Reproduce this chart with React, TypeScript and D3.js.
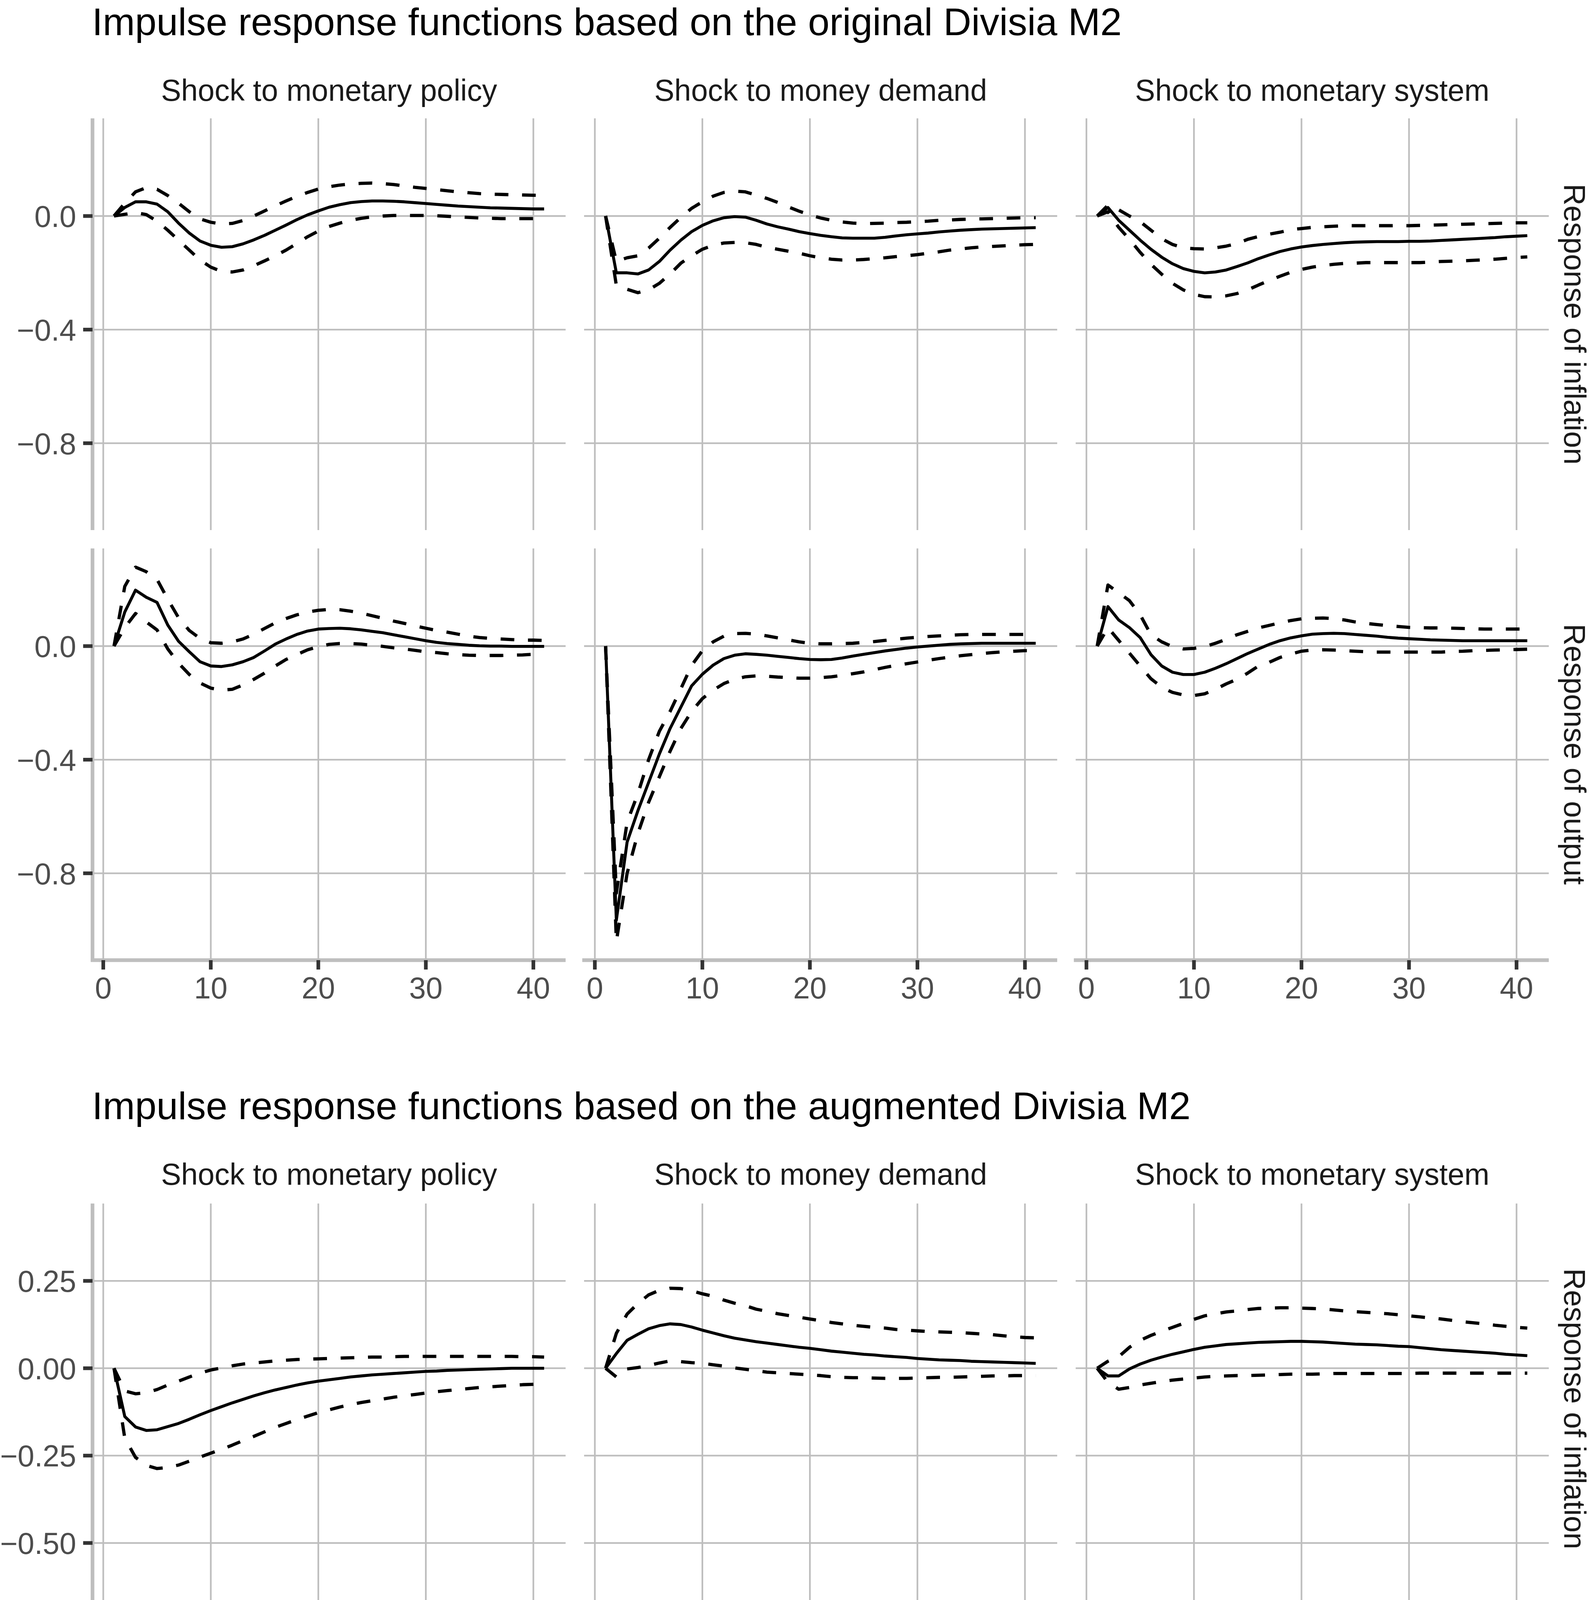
import React from "react";
import * as d3 from "d3";

// ---------------- DATA ----------------
const horizon = [1,2,3,4,5,6,7,8,9,10,11,12,13,14,15,16,17,18,19,20,21,22,23,24,25,26,27,28,29,30,31,32,33,34,35,36,37,38,39,40,41];

const titleOriginal = "Impulse response functions based on the original Divisia M2";
const titleAugmented = "Impulse response functions based on the augmented Divisia M2";
const shockLabels = ["Shock to monetary policy", "Shock to money demand", "Shock to monetary system"];
const responseLabels = ["Response of inflation", "Response of output"];

const xTickValues = [0, 10, 20, 30, 40];
const xTickLabels = ["0", "10", "20", "30", "40"];
const yTickValuesOriginal = [0, -0.4, -0.8];
const yTickLabelsOriginal = ["0.0", "\u22120.4", "\u22120.8"];
const yTickValuesAugmented = [0.25, 0, -0.25, -0.5];
const yTickLabelsAugmented = ["0.25", "0.00", "\u22120.25", "\u22120.50"];

// Original Divisia M2 — shock to monetary policy
const origPolicyInflMid = [0,0.03,0.05,0.05,0.042,0.015,-0.025,-0.06,-0.088,-0.103,-0.11,-0.108,-0.098,-0.084,-0.068,-0.05,-0.032,-0.013,0.004,0.018,0.031,0.04,0.047,0.051,0.053,0.053,0.052,0.05,0.047,0.044,0.041,0.038,0.035,0.033,0.031,0.029,0.028,0.027,0.026,0.025,0.025];
const origPolicyInflUp = [0,0.045,0.085,0.1,0.094,0.072,0.045,0.015,-0.01,-0.022,-0.028,-0.026,-0.016,0.0,0.018,0.036,0.053,0.069,0.083,0.095,0.103,0.109,0.113,0.115,0.116,0.114,0.111,0.106,0.101,0.097,0.093,0.089,0.085,0.082,0.079,0.077,0.076,0.075,0.074,0.073,0.073];
const origPolicyInflLo = [0,0.006,0.012,0.005,-0.018,-0.05,-0.085,-0.12,-0.155,-0.18,-0.195,-0.197,-0.19,-0.175,-0.158,-0.14,-0.12,-0.097,-0.073,-0.053,-0.037,-0.025,-0.015,-0.008,-0.003,0,0.002,0.002,0.002,0.002,0.001,-0.001,-0.003,-0.005,-0.007,-0.008,-0.009,-0.009,-0.009,-0.009,-0.009];
const origPolicyOutMid = [0,0.12,0.197,0.172,0.154,0.074,0.017,-0.02,-0.055,-0.07,-0.072,-0.066,-0.055,-0.04,-0.017,0.007,0.025,0.041,0.053,0.06,0.062,0.063,0.061,0.057,0.052,0.047,0.04,0.033,0.026,0.019,0.013,0.009,0.006,0.003,0.001,0,0,-0.001,-0.001,-0.001,-0.001];
const origPolicyOutUp = [0,0.21,0.278,0.262,0.235,0.165,0.1,0.055,0.027,0.012,0.01,0.015,0.025,0.042,0.062,0.082,0.097,0.11,0.12,0.126,0.129,0.128,0.123,0.116,0.107,0.098,0.088,0.08,0.071,0.063,0.055,0.049,0.042,0.035,0.03,0.027,0.025,0.023,0.021,0.021,0.02];
const origPolicyOutLo = [0,0.065,0.115,0.085,0.057,-0.01,-0.06,-0.1,-0.13,-0.148,-0.155,-0.152,-0.137,-0.117,-0.095,-0.07,-0.047,-0.03,-0.013,-0.002,0.006,0.009,0.009,0.007,0.003,-0.001,-0.006,-0.01,-0.015,-0.02,-0.023,-0.027,-0.03,-0.032,-0.033,-0.033,-0.033,-0.032,-0.031,-0.029,-0.028];

// Original Divisia M2 — shock to money demand
const origDemandInflMid = [0,-0.2,-0.2,-0.204,-0.19,-0.16,-0.12,-0.085,-0.055,-0.033,-0.017,-0.006,-0.002,-0.004,-0.015,-0.028,-0.038,-0.046,-0.055,-0.062,-0.068,-0.073,-0.077,-0.078,-0.078,-0.078,-0.075,-0.07,-0.066,-0.063,-0.06,-0.056,-0.053,-0.05,-0.048,-0.046,-0.045,-0.044,-0.043,-0.042,-0.041];
const origDemandInflUp = [0,-0.16,-0.147,-0.14,-0.113,-0.078,-0.04,-0.005,0.027,0.05,0.07,0.083,0.088,0.085,0.074,0.062,0.048,0.032,0.017,0.004,-0.007,-0.015,-0.021,-0.025,-0.027,-0.026,-0.025,-0.023,-0.022,-0.02,-0.018,-0.015,-0.014,-0.012,-0.011,-0.01,-0.009,-0.008,-0.007,-0.006,-0.006];
const origDemandInflLo = [0,-0.245,-0.258,-0.27,-0.26,-0.237,-0.204,-0.166,-0.14,-0.117,-0.103,-0.095,-0.093,-0.094,-0.1,-0.11,-0.117,-0.124,-0.131,-0.14,-0.147,-0.152,-0.155,-0.155,-0.153,-0.15,-0.147,-0.143,-0.14,-0.136,-0.131,-0.126,-0.12,-0.116,-0.112,-0.109,-0.107,-0.105,-0.103,-0.101,-0.1];
const origDemandOutMid = [0,-0.965,-0.69,-0.58,-0.48,-0.38,-0.29,-0.215,-0.14,-0.099,-0.067,-0.044,-0.032,-0.027,-0.029,-0.032,-0.036,-0.04,-0.044,-0.047,-0.048,-0.047,-0.042,-0.035,-0.029,-0.023,-0.017,-0.012,-0.007,-0.003,0,0.003,0.006,0.008,0.009,0.01,0.01,0.01,0.01,0.01,0.01];
const origDemandOutUp = [0,-0.87,-0.62,-0.52,-0.4,-0.3,-0.23,-0.15,-0.068,-0.016,0.015,0.035,0.044,0.045,0.042,0.036,0.029,0.022,0.015,0.01,0.008,0.008,0.009,0.01,0.013,0.016,0.02,0.024,0.028,0.031,0.034,0.036,0.038,0.04,0.041,0.041,0.041,0.041,0.041,0.041,0.041];
const origDemandOutLo = [0,-1.04,-0.8,-0.66,-0.55,-0.46,-0.37,-0.29,-0.23,-0.185,-0.155,-0.132,-0.117,-0.108,-0.105,-0.106,-0.109,-0.111,-0.113,-0.113,-0.111,-0.108,-0.103,-0.097,-0.091,-0.083,-0.075,-0.068,-0.062,-0.056,-0.05,-0.044,-0.039,-0.034,-0.03,-0.026,-0.023,-0.02,-0.018,-0.016,-0.016];

// Original Divisia M2 — shock to monetary system
const origSystemInflMid = [0,0.03,-0.015,-0.05,-0.085,-0.117,-0.145,-0.168,-0.185,-0.195,-0.2,-0.197,-0.19,-0.178,-0.165,-0.15,-0.137,-0.125,-0.116,-0.109,-0.104,-0.1,-0.097,-0.094,-0.092,-0.091,-0.09,-0.09,-0.09,-0.089,-0.089,-0.088,-0.086,-0.084,-0.082,-0.08,-0.078,-0.076,-0.073,-0.071,-0.069];
const origSystemInflUp = [0,0.038,0.022,0,-0.02,-0.05,-0.08,-0.1,-0.112,-0.115,-0.116,-0.112,-0.106,-0.097,-0.082,-0.072,-0.064,-0.057,-0.048,-0.044,-0.04,-0.038,-0.036,-0.034,-0.034,-0.034,-0.034,-0.034,-0.034,-0.034,-0.033,-0.032,-0.031,-0.03,-0.029,-0.028,-0.027,-0.026,-0.025,-0.024,-0.024];
const origSystemInflLo = [0,0.015,-0.04,-0.082,-0.128,-0.17,-0.205,-0.237,-0.26,-0.276,-0.284,-0.285,-0.281,-0.273,-0.26,-0.243,-0.227,-0.212,-0.198,-0.188,-0.18,-0.174,-0.17,-0.167,-0.166,-0.164,-0.164,-0.164,-0.164,-0.164,-0.164,-0.162,-0.16,-0.159,-0.158,-0.156,-0.154,-0.152,-0.149,-0.146,-0.144];
const origSystemOutMid = [0,0.139,0.092,0.065,0.03,-0.03,-0.07,-0.092,-0.1,-0.1,-0.092,-0.078,-0.062,-0.044,-0.026,-0.01,0.006,0.019,0.029,0.036,0.042,0.044,0.045,0.044,0.041,0.038,0.035,0.031,0.028,0.026,0.024,0.022,0.021,0.02,0.019,0.019,0.019,0.019,0.019,0.019,0.019];
const origSystemOutUp = [0,0.215,0.188,0.16,0.11,0.04,0.015,-0.002,-0.01,-0.008,-0.002,0.01,0.024,0.04,0.052,0.064,0.073,0.082,0.09,0.096,0.098,0.099,0.097,0.092,0.085,0.08,0.076,0.072,0.069,0.066,0.065,0.064,0.064,0.063,0.062,0.061,0.06,0.06,0.06,0.06,0.06];
const origSystemOutLo = [0,0.065,0.02,-0.025,-0.07,-0.115,-0.145,-0.163,-0.172,-0.174,-0.168,-0.152,-0.133,-0.117,-0.095,-0.07,-0.057,-0.04,-0.028,-0.018,-0.014,-0.013,-0.014,-0.016,-0.018,-0.02,-0.021,-0.021,-0.021,-0.021,-0.021,-0.021,-0.021,-0.019,-0.018,-0.016,-0.015,-0.014,-0.013,-0.012,-0.011];

// Augmented Divisia M2 — shock to monetary policy
const augPolicyInflMid = [0,-0.138,-0.168,-0.178,-0.176,-0.167,-0.158,-0.146,-0.133,-0.121,-0.11,-0.099,-0.089,-0.079,-0.07,-0.062,-0.055,-0.048,-0.042,-0.037,-0.033,-0.029,-0.025,-0.022,-0.019,-0.017,-0.015,-0.013,-0.011,-0.009,-0.008,-0.006,-0.005,-0.004,-0.003,-0.002,-0.001,0,0,0,0];
const augPolicyInflUp = [0,-0.065,-0.073,-0.07,-0.061,-0.048,-0.037,-0.025,-0.014,-0.005,0.001,0.007,0.012,0.015,0.018,0.021,0.023,0.025,0.026,0.027,0.028,0.029,0.03,0.031,0.032,0.032,0.033,0.034,0.034,0.034,0.034,0.034,0.034,0.034,0.034,0.034,0.034,0.034,0.033,0.033,0.032];
const augPolicyInflLo = [0,-0.2,-0.255,-0.278,-0.287,-0.284,-0.277,-0.266,-0.254,-0.243,-0.232,-0.22,-0.207,-0.195,-0.182,-0.169,-0.158,-0.147,-0.137,-0.127,-0.119,-0.111,-0.104,-0.098,-0.093,-0.088,-0.083,-0.079,-0.075,-0.071,-0.067,-0.064,-0.061,-0.058,-0.055,-0.053,-0.051,-0.049,-0.047,-0.046,-0.045];
const augPolicyOutMid = [0,-0.532,-0.445,-0.39,-0.338,-0.295,-0.255,-0.217,-0.18,-0.142,-0.11,-0.082,-0.06,-0.042,-0.03,-0.02,-0.013,-0.008,-0.003,0,0.003,0.004,0.005,0.006,0.006,0.006,0.006,0.006,0.006,0.006,0.005,0.004,0.004,0.003,0.002,0.002,0.001,0,0,0,0];
const augPolicyOutUp = [0,-0.23,-0.226,-0.208,-0.18,-0.152,-0.125,-0.094,-0.065,-0.042,-0.024,-0.01,0.006,0.019,0.028,0.035,0.042,0.047,0.051,0.054,0.057,0.058,0.059,0.059,0.058,0.057,0.056,0.055,0.053,0.051,0.049,0.047,0.045,0.043,0.041,0.039,0.037,0.036,0.034,0.033,0.032];
const augPolicyOutLo = [0,-0.65,-0.565,-0.51,-0.465,-0.42,-0.378,-0.335,-0.295,-0.256,-0.218,-0.186,-0.153,-0.126,-0.1,-0.083,-0.069,-0.058,-0.05,-0.044,-0.04,-0.037,-0.035,-0.034,-0.033,-0.032,-0.032,-0.031,-0.03,-0.03,-0.03,-0.029,-0.029,-0.028,-0.028,-0.027,-0.027,-0.026,-0.026,-0.025,-0.025];

// Augmented Divisia M2 — shock to money demand
const augDemandInflMid = [0,0.042,0.08,0.097,0.113,0.122,0.127,0.125,0.118,0.109,0.101,0.093,0.086,0.081,0.076,0.072,0.068,0.064,0.06,0.057,0.053,0.049,0.046,0.043,0.04,0.038,0.035,0.033,0.031,0.028,0.026,0.024,0.023,0.022,0.02,0.019,0.018,0.017,0.016,0.015,0.014];
const augDemandInflUp = [0,0.1,0.155,0.185,0.21,0.223,0.229,0.228,0.222,0.213,0.206,0.195,0.186,0.179,0.169,0.163,0.156,0.151,0.146,0.141,0.136,0.131,0.127,0.123,0.12,0.117,0.115,0.111,0.109,0.107,0.105,0.104,0.103,0.102,0.1,0.098,0.096,0.093,0.09,0.088,0.087];
const augDemandInflLo = [0,-0.025,-0.002,0.002,0.008,0.015,0.021,0.019,0.016,0.014,0.01,0.006,0.001,-0.003,-0.007,-0.011,-0.013,-0.015,-0.017,-0.019,-0.021,-0.024,-0.026,-0.027,-0.027,-0.028,-0.029,-0.029,-0.029,-0.028,-0.027,-0.026,-0.026,-0.025,-0.024,-0.023,-0.022,-0.022,-0.021,-0.021,-0.021];
const augDemandOutMid = [0,0.142,0.25,0.196,0.163,0.108,0.063,0.028,0.002,-0.017,-0.033,-0.042,-0.047,-0.05,-0.051,-0.051,-0.05,-0.05,-0.048,-0.046,-0.044,-0.041,-0.039,-0.037,-0.035,-0.033,-0.031,-0.029,-0.027,-0.025,-0.023,-0.021,-0.02,-0.019,-0.018,-0.016,-0.015,-0.013,-0.012,-0.011,-0.01];
const augDemandOutUp = [0,0.345,0.418,0.355,0.31,0.235,0.185,0.137,0.098,0.067,0.045,0.03,0.02,0.012,0.007,0.005,0.004,0.003,0.003,0.003,0.003,0.003,0.003,0.003,0.004,0.005,0.007,0.008,0.009,0.01,0.012,0.013,0.014,0.014,0.015,0.016,0.017,0.018,0.019,0.02,0.021];
const augDemandOutLo = [0,-0.08,0.055,0.022,0.003,-0.018,-0.043,-0.058,-0.073,-0.088,-0.098,-0.102,-0.105,-0.107,-0.108,-0.108,-0.107,-0.105,-0.103,-0.1,-0.097,-0.094,-0.091,-0.088,-0.085,-0.082,-0.079,-0.076,-0.073,-0.07,-0.067,-0.064,-0.061,-0.058,-0.055,-0.052,-0.05,-0.048,-0.047,-0.046,-0.045];

// Augmented Divisia M2 — shock to monetary system
const augSystemInflMid = [0,-0.022,-0.022,-0.002,0.012,0.023,0.032,0.04,0.047,0.054,0.06,0.064,0.068,0.07,0.072,0.074,0.075,0.076,0.077,0.077,0.076,0.075,0.073,0.071,0.069,0.068,0.067,0.065,0.063,0.062,0.059,0.056,0.053,0.051,0.049,0.047,0.045,0.043,0.04,0.038,0.036];
const augSystemInflUp = [0,0.02,0.033,0.06,0.08,0.094,0.106,0.117,0.128,0.14,0.15,0.156,0.161,0.164,0.168,0.171,0.172,0.173,0.173,0.172,0.171,0.17,0.167,0.164,0.162,0.16,0.158,0.156,0.153,0.15,0.147,0.144,0.141,0.137,0.133,0.13,0.127,0.123,0.12,0.117,0.115];
const augSystemInflLo = [0,-0.04,-0.06,-0.055,-0.048,-0.043,-0.038,-0.034,-0.031,-0.028,-0.025,-0.023,-0.022,-0.021,-0.021,-0.02,-0.019,-0.018,-0.017,-0.017,-0.017,-0.016,-0.015,-0.015,-0.015,-0.015,-0.015,-0.015,-0.015,-0.015,-0.014,-0.014,-0.014,-0.014,-0.014,-0.014,-0.014,-0.014,-0.014,-0.014,-0.014];
const augSystemOutMid = [0,-0.09,-0.157,-0.161,-0.163,-0.154,-0.137,-0.122,-0.111,-0.101,-0.092,-0.085,-0.08,-0.076,-0.072,-0.069,-0.067,-0.065,-0.063,-0.062,-0.061,-0.06,-0.06,-0.059,-0.058,-0.058,-0.057,-0.056,-0.055,-0.054,-0.053,-0.052,-0.051,-0.05,-0.049,-0.048,-0.047,-0.045,-0.043,-0.041,-0.039];
const augSystemOutUp = [0,0.035,-0.045,-0.056,-0.065,-0.066,-0.06,-0.05,-0.041,-0.031,-0.023,-0.017,-0.013,-0.01,-0.008,-0.007,-0.007,-0.008,-0.009,-0.01,-0.01,-0.01,-0.01,-0.01,-0.01,-0.01,-0.01,-0.01,-0.009,-0.008,-0.008,-0.008,-0.008,-0.008,-0.007,-0.007,-0.007,-0.007,-0.007,-0.007,-0.007];
const augSystemOutLo = [0,-0.2,-0.24,-0.247,-0.248,-0.238,-0.218,-0.2,-0.19,-0.181,-0.172,-0.163,-0.155,-0.149,-0.145,-0.14,-0.136,-0.133,-0.13,-0.128,-0.126,-0.124,-0.122,-0.12,-0.118,-0.116,-0.114,-0.112,-0.11,-0.109,-0.107,-0.105,-0.104,-0.102,-0.101,-0.1,-0.099,-0.098,-0.097,-0.096,-0.095];

// ---------------- STRUCTURE ----------------
type Band = { mid: number[]; up: number[]; lo: number[] };

const originalPanels: Band[][] = [
  [
    { mid: origPolicyInflMid, up: origPolicyInflUp, lo: origPolicyInflLo },
    { mid: origDemandInflMid, up: origDemandInflUp, lo: origDemandInflLo },
    { mid: origSystemInflMid, up: origSystemInflUp, lo: origSystemInflLo },
  ],
  [
    { mid: origPolicyOutMid, up: origPolicyOutUp, lo: origPolicyOutLo },
    { mid: origDemandOutMid, up: origDemandOutUp, lo: origDemandOutLo },
    { mid: origSystemOutMid, up: origSystemOutUp, lo: origSystemOutLo },
  ],
];
const augmentedPanels: Band[][] = [
  [
    { mid: augPolicyInflMid, up: augPolicyInflUp, lo: augPolicyInflLo },
    { mid: augDemandInflMid, up: augDemandInflUp, lo: augDemandInflLo },
    { mid: augSystemInflMid, up: augSystemInflUp, lo: augSystemInflLo },
  ],
  [
    { mid: augPolicyOutMid, up: augPolicyOutUp, lo: augPolicyOutLo },
    { mid: augDemandOutMid, up: augDemandOutUp, lo: augDemandOutLo },
    { mid: augSystemOutMid, up: augSystemOutUp, lo: augSystemOutLo },
  ],
];

const FONT = "'Liberation Sans', Arial, Helvetica, sans-serif";
const GRID = "#BEBEBE";

const plots = [
  {
    title: titleOriginal,
    titleY: 90,
    stripY: 258,
    rowTops: [303, 1404],
    panelH: 1054,
    panels: originalPanels,
    yTicks: yTickValuesOriginal,
    yLabels: yTickLabelsOriginal,
  },
  {
    title: titleAugmented,
    titleY: 2865,
    stripY: 3033,
    rowTops: [3081, 4181],
    panelH: 1051,
    panels: augmentedPanels,
    yTicks: yTickValuesAugmented,
    yLabels: yTickLabelsAugmented,
  },
];

const colLeft0 = 236.8;
const colStep = 1258.3;
const panelW = 1211;

function expandDomain(panels: Band[][]): [number, number] {
  const all: number[] = [];
  panels.forEach((row) => row.forEach((b) => all.push(...b.mid, ...b.up, ...b.lo)));
  const [mn, mx] = d3.extent(all) as [number, number];
  const pad = (mx - mn) * 0.05;
  return [mn - pad, mx + pad];
}

function Plot({ plot }: { plot: (typeof plots)[number] }) {
  const yDomain = expandDomain(plot.panels);
  const xExt = d3.extent(horizon) as [number, number];
  const xPad = (xExt[1] - xExt[0]) * 0.05;
  const xDomain: [number, number] = [xExt[0] - xPad, xExt[1] + xPad];
  const lw = 8.3;
  const dash = "35 35";

  const elems: React.ReactNode[] = [];
  elems.push(
    <text key="title" x={235.5} y={plot.titleY} fontSize={99} fill="#000" fontFamily={FONT}>
      {plot.title}
    </text>
  );

  plot.panels.forEach((row, r) => {
    row.forEach((band, c) => {
      const left = colLeft0 + c * colStep;
      const top = plot.rowTops[r];
      const bottom = top + plot.panelH;
      const x = d3.scaleLinear().domain(xDomain).range([left, left + panelW]);
      const y = d3.scaleLinear().domain(yDomain).range([bottom, top]);
      const line = d3
        .line<number>()
        .x((_, i) => x(horizon[i]))
        .y((d) => y(d));
      const key = `p${r}${c}`;
      const yT = plot.yTicks.filter((v) => v >= yDomain[0] && v <= yDomain[1]);
      elems.push(
        <g key={key}>
          {xTickValues.map((v) => (
            <line key={"gx" + v} x1={x(v)} x2={x(v)} y1={top} y2={bottom} stroke={GRID} strokeWidth={4.3} />
          ))}
          {yT.map((v) => (
            <line key={"gy" + v} x1={left} x2={left + panelW} y1={y(v)} y2={y(v)} stroke={GRID} strokeWidth={4.3} />
          ))}
          <path d={line(band.lo) || ""} fill="none" stroke="#000" strokeWidth={lw} strokeDasharray={dash} strokeLinejoin="round" />
          <path d={line(band.up) || ""} fill="none" stroke="#000" strokeWidth={lw} strokeDasharray={dash} strokeLinejoin="round" />
          <path d={line(band.mid) || ""} fill="none" stroke="#000" strokeWidth={7.6} strokeLinejoin="round" />
          {c === 0 && (
            <g>
              <line x1={left} x2={left} y1={top} y2={bottom} stroke={GRID} strokeWidth={9.4} />
              {yT.map((v) => (
                <g key={"ty" + v}>
                  <line x1={left - 24} x2={left} y1={y(v)} y2={y(v)} stroke="#333333" strokeWidth={9.4} />
                  <text x={left - 41.8} y={y(v) + 28} textAnchor="end" fontSize={77} fill="#4D4D4D" fontFamily={FONT}>
                    {plot.yLabels[plot.yTicks.indexOf(v)]}
                  </text>
                </g>
              ))}
            </g>
          )}
          {r === 1 && (
            <g>
              <line x1={left - 4.7} x2={left + panelW} y1={bottom} y2={bottom} stroke={GRID} strokeWidth={9.4} />
              {xTickValues.map((v, i) => (
                <g key={"tx" + v}>
                  <line x1={x(v)} x2={x(v)} y1={bottom} y2={bottom + 24} stroke="#333333" strokeWidth={9.4} />
                  <text x={x(v)} y={bottom + 98} textAnchor="middle" fontSize={77} fill="#4D4D4D" fontFamily={FONT}>
                    {xTickLabels[i]}
                  </text>
                </g>
              ))}
            </g>
          )}
          {r === 0 && (
            <text x={left + panelW / 2} y={plot.stripY} textAnchor="middle" fontSize={77} fill="#1A1A1A" fontFamily={FONT}>
              {shockLabels[c]}
            </text>
          )}
          {c === 2 && (
            <text
              transform={`translate(4004, ${(top + bottom) / 2}) rotate(90)`}
              textAnchor="middle"
              fontSize={77}
              fill="#1A1A1A"
              fontFamily={FONT}
            >
              {responseLabels[r]}
            </text>
          )}
        </g>
      );
    });
  });
  return <g>{elems}</g>;
}

export default function App() {
  return (
    <div style={{ position: "absolute", left: 0, top: 0 }}>
      <svg width={4075} height={5356} viewBox="0 0 4075 5356" style={{ display: "block", background: "#fff" }}>
        <rect x={0} y={0} width={4075} height={5356} fill="#fff" />
        {plots.map((p, i) => (
          <Plot key={i} plot={p} />
        ))}
      </svg>
    </div>
  );
}
